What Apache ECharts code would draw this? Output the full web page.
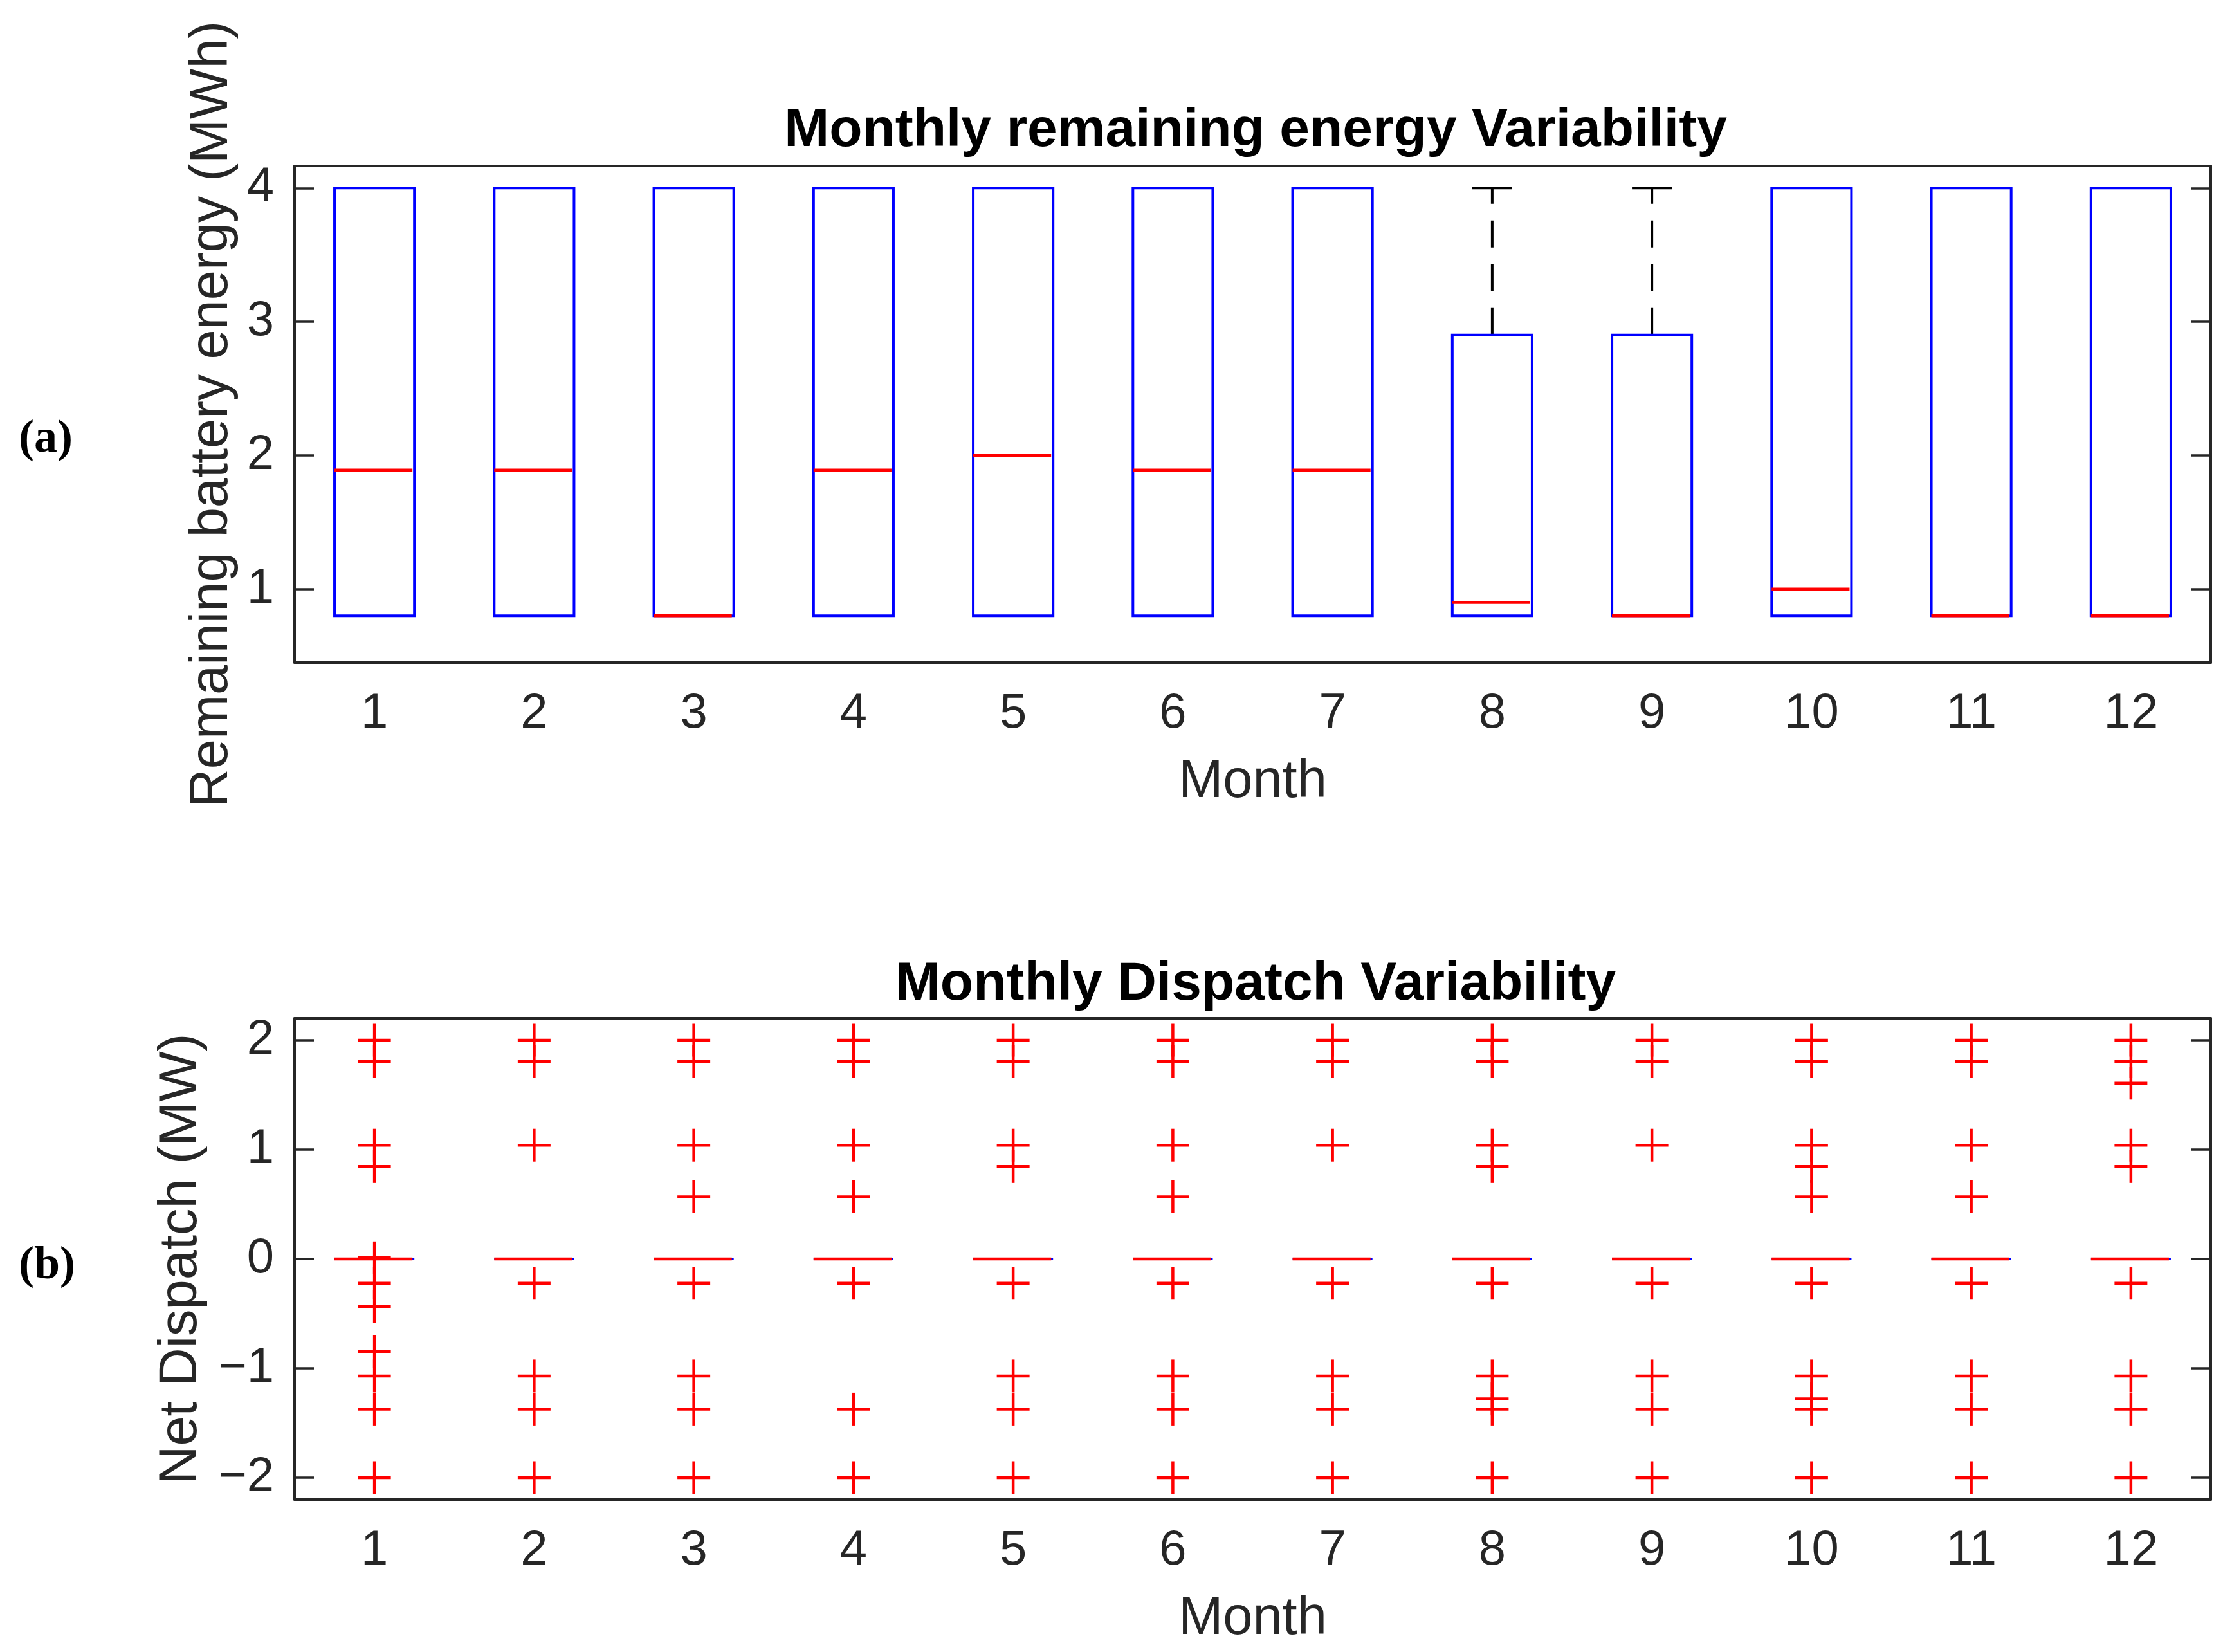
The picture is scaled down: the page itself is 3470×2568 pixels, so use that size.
<!DOCTYPE html>
<html>
<head>
<meta charset="utf-8">
<title>Monthly variability</title>
<script src="https://cdn.jsdelivr.net/npm/echarts@6/dist/echarts.min.js"></script>
<style>
  html, body { margin: 0; padding: 0; background: #fff; }
  #main { width: 3470px; height: 2568px; }
</style>
</head>
<body>
<div id="main"></div>
<script>
const months = ['1', '2', '3', '4', '5', '6', '7', '8', '9', '10', '11', '12'];

// (a) remaining battery energy, MWh
const energyWhiskerLow = [0.8, 0.8, 0.8, 0.8, 0.8, 0.8, 0.8, 0.8, 0.8, 0.8, 0.8, 0.8];
const energyQ1 = [0.8, 0.8, 0.8, 0.8, 0.8, 0.8, 0.8, 0.8, 0.8, 0.8, 0.8, 0.8];
const energyMedian = [1.89, 1.89, 0.8, 1.89, 2.0, 1.89, 1.89, 0.9, 0.8, 1.0, 0.8, 0.8];
const energyQ3 = [4, 4, 4, 4, 4, 4, 4, 2.9, 2.9, 4, 4, 4];
const energyWhiskerHigh = [4, 4, 4, 4, 4, 4, 4, 4, 4, 4, 4, 4];

// (b) net dispatch, MW (boxes collapse to 0, everything else is an outlier)
const dispatchWhiskerLow = [0, 0, 0, 0, 0, 0, 0, 0, 0, 0, 0, 0];
const dispatchQ1 = [0, 0, 0, 0, 0, 0, 0, 0, 0, 0, 0, 0];
const dispatchMedian = [0, 0, 0, 0, 0, 0, 0, 0, 0, 0, 0, 0];
const dispatchQ3 = [0, 0, 0, 0, 0, 0, 0, 0, 0, 0, 0, 0];
const dispatchWhiskerHigh = [0, 0, 0, 0, 0, 0, 0, 0, 0, 0, 0, 0];
const dispatchOutliers = [
  [2.0, 1.805, 1.04, 0.845, 0.01, -0.222, -0.436, -0.845, -1.07, -1.373, -2.0],
  [2.0, 1.805, 1.04, -0.222, -1.07, -1.373, -2.0],
  [2.0, 1.805, 1.04, 0.568, -0.222, -1.07, -1.373, -2.0],
  [2.0, 1.805, 1.04, 0.568, -0.222, -1.373, -2.0],
  [2.0, 1.805, 1.04, 0.845, -0.222, -1.07, -1.373, -2.0],
  [2.0, 1.805, 1.04, 0.568, -0.222, -1.07, -1.373, -2.0],
  [2.0, 1.805, 1.04, -0.222, -1.07, -1.373, -2.0],
  [2.0, 1.805, 1.04, 0.845, -0.222, -1.07, -1.28, -1.373, -2.0],
  [2.0, 1.805, 1.04, -0.222, -1.07, -1.373, -2.0],
  [2.0, 1.805, 1.04, 0.845, 0.568, -0.222, -1.07, -1.28, -1.373, -2.0],
  [2.0, 1.805, 1.04, 0.568, -0.222, -1.07, -1.373, -2.0],
  [2.0, 1.805, 1.607, 1.04, 0.845, -0.222, -1.07, -1.373, -2.0]
];

const FONT = '"Liberation Sans", Arial, Helvetica, sans-serif';
const AXIS_COLOR = '#262626';

const chart = echarts.init(document.getElementById('main'));

function boxData(lo, q1, med, q3, hi) {
  return months.map((m, i) => [i, lo[i], q1[i], med[i], q3[i], hi[i]]);
}

// MATLAB-style box: blue box, red median, black dashed whiskers
function renderBox(params, api) {
  const i = api.value(0);
  const lo = api.value(1), q1 = api.value(2), med = api.value(3), q3 = api.value(4), hi = api.value(5);
  const band = api.size([1, 0])[0];
  const half = band * 0.25;
  const cap = band * 0.125;
  const pLo = api.coord([i, lo]);
  const pQ1 = api.coord([i, q1]);
  const pMed = api.coord([i, med]);
  const pQ3 = api.coord([i, q3]);
  const pHi = api.coord([i, hi]);
  const x = pQ1[0];
  const children = [];
  const whiskerStyle = { stroke: '#000', lineWidth: 4, lineDash: [42, 26] };
  if (hi > q3) {
    children.push({ type: 'line', shape: { x1: x, y1: pQ3[1], x2: x, y2: pHi[1] }, style: whiskerStyle });
    children.push({ type: 'line', shape: { x1: x - cap, y1: pHi[1], x2: x + cap, y2: pHi[1] }, style: { stroke: '#000', lineWidth: 4 } });
  }
  if (lo < q1) {
    children.push({ type: 'line', shape: { x1: x, y1: pQ1[1], x2: x, y2: pLo[1] }, style: whiskerStyle });
    children.push({ type: 'line', shape: { x1: x - cap, y1: pLo[1], x2: x + cap, y2: pLo[1] }, style: { stroke: '#000', lineWidth: 4 } });
  }
  children.push({
    type: 'rect',
    shape: { x: x - half, y: pQ3[1], width: half * 2, height: pQ1[1] - pQ3[1] },
    style: { fill: null, stroke: '#0000ff', lineWidth: 4 }
  });
  children.push({
    type: 'line',
    shape: { x1: x - half, y1: pMed[1], x2: x + half - 3, y2: pMed[1] },
    style: { stroke: '#ff0000', lineWidth: 4.5 }
  });
  return { type: 'group', children };
}

function renderPlus(params, api) {
  const p = api.coord([api.value(0), api.value(1)]);
  const r = 25.5;
  const style = { stroke: '#ff0000', lineWidth: 4.5 };
  return {
    type: 'group',
    children: [
      { type: 'line', shape: { x1: p[0] - r, y1: p[1], x2: p[0] + r, y2: p[1] }, style },
      { type: 'line', shape: { x1: p[0], y1: p[1] - r, x2: p[0], y2: p[1] + r }, style }
    ]
  };
}

function minusFormatter(v) {
  return v < 0 ? '\u2212' + Math.abs(v) : String(v);
}

function xAxes(gridIndex) {
  const common = {
    type: 'category',
    data: months,
    gridIndex,
    boundaryGap: true,
    axisLine: { onZero: false, lineStyle: { color: AXIS_COLOR, width: 4 } },
    axisTick: { alignWithLabel: true, inside: true, length: 30, lineStyle: { color: AXIS_COLOR, width: 3.5 } },
    splitLine: { show: false }
  };
  return [
    Object.assign({}, common, {
      position: 'bottom',
      axisLabel: { fontSize: 76, fontFamily: FONT, color: AXIS_COLOR, margin: 42 },
      name: 'Month',
      nameLocation: 'middle',
      nameGap: 145,
      nameTextStyle: { fontSize: 83, fontFamily: FONT, color: AXIS_COLOR }
    }),
    Object.assign({}, common, { position: 'top', axisLabel: { show: false } })
  ];
}

// no interval: splitNumber 4 gives a step of 1 counted from whole numbers
function yAxes(gridIndex, min, max, name, nameGap) {
  const common = {
    type: 'value',
    gridIndex,
    min,
    max,
    splitNumber: 4,
    axisLine: { show: true, onZero: false, lineStyle: { color: AXIS_COLOR, width: 4 } },
    axisTick: { show: true, inside: true, length: 30, lineStyle: { color: AXIS_COLOR, width: 3.5 } },
    splitLine: { show: false }
  };
  return [
    Object.assign({}, common, {
      position: 'left',
      axisLabel: {
        fontSize: 76, fontFamily: FONT, color: AXIS_COLOR, margin: 32,
        showMinLabel: false, showMaxLabel: false,
        formatter: minusFormatter
      },
      name,
      nameLocation: 'middle',
      nameGap,
      nameTextStyle: { fontSize: 83, fontFamily: FONT, color: AXIS_COLOR }
    }),
    Object.assign({}, common, { position: 'right', axisLabel: { show: false } })
  ];
}

const outlierPoints = [];
dispatchOutliers.forEach((vals, i) => vals.forEach((v) => outlierPoints.push([i, v])));

chart.setOption({
  backgroundColor: '#ffffff',
  animation: false,
  title: [
    {
      text: 'Monthly remaining energy Variability',
      left: 1947, top: 157, textAlign: 'center',
      textStyle: { fontSize: 84, fontWeight: 'bold', fontFamily: FONT, color: '#000' }
    },
    {
      text: 'Monthly Dispatch Variability',
      left: 1947, top: 1484, textAlign: 'center',
      textStyle: { fontSize: 84, fontWeight: 'bold', fontFamily: FONT, color: '#000' }
    }
  ],
  grid: [
    { left: 458, right: 33, top: 258, height: 772 },
    { left: 458, right: 33, top: 1583, height: 748 }
  ],
  xAxis: xAxes(0).concat(xAxes(1)),
  yAxis: yAxes(0, 0.45, 4.165, 'Remaining battery energy (MWh)', 86)
    .concat(yAxes(1, -2.2, 2.2, 'Net Dispatch (MW)', 134)),
  graphic: [
    { type: 'text', x: 71, y: 683, style: { text: '(a)', fontSize: 72, fontWeight: 'bold', fontFamily: '"Liberation Serif", "Times New Roman", serif', fill: '#000', align: 'center', verticalAlign: 'middle' } },
    { type: 'text', x: 73, y: 1968, style: { text: '(b)', fontSize: 72, fontWeight: 'bold', fontFamily: '"Liberation Serif", "Times New Roman", serif', fill: '#000', align: 'center', verticalAlign: 'middle' } }
  ],
  series: [
    {
      name: 'energy',
      type: 'custom',
      xAxisIndex: 0,
      yAxisIndex: 0,
      renderItem: renderBox,
      encode: { x: 0, y: [1, 2, 3, 4, 5] },
      data: boxData(energyWhiskerLow, energyQ1, energyMedian, energyQ3, energyWhiskerHigh)
    },
    {
      name: 'dispatch',
      type: 'custom',
      xAxisIndex: 2,
      yAxisIndex: 2,
      renderItem: renderBox,
      encode: { x: 0, y: [1, 2, 3, 4, 5] },
      data: boxData(dispatchWhiskerLow, dispatchQ1, dispatchMedian, dispatchQ3, dispatchWhiskerHigh)
    },
    {
      name: 'dispatch outliers',
      type: 'custom',
      xAxisIndex: 2,
      yAxisIndex: 2,
      renderItem: renderPlus,
      encode: { x: 0, y: 1 },
      data: outlierPoints
    }
  ]
});
</script>
</body>
</html>
